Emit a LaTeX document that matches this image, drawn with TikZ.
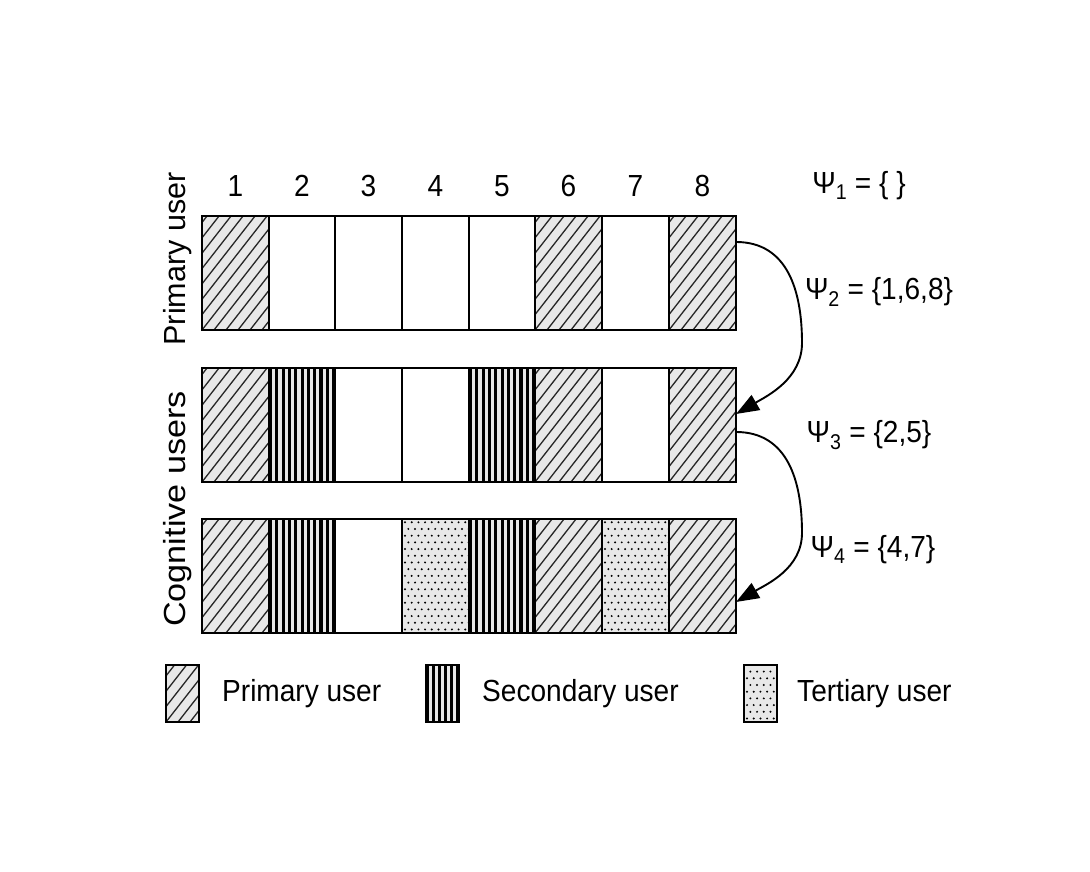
\documentclass[tikz,border=0pt]{standalone}
\usepackage{fontspec}
\setmainfont{Liberation Sans}
\newfontfamily\hfont[FakeStretch=0.92]{Liberation Sans}
\newfontfamily\vfontA{Liberation Sans}
\newfontfamily\vfontB[FakeStretch=1.12]{Liberation Sans}
\usetikzlibrary{arrows.meta,calc}
\definecolor{bgfill}{gray}{0.91}
\tikzset{
  cellbox/.style={fill=white, draw=none, inner sep=0pt, outer sep=0pt, anchor=south west},
  border/.style={line width=1.8pt, draw=black},
  lbl/.style={font=\hfont\fontsize{30.5}{33}\selectfont, inner sep=0pt},
  vlbl/.style={inner sep=0pt, rotate=90},
  flow/.style={line width=1.9pt, -{Triangle[length=23pt,width=17pt]}},
  hatchline/.style={line width=1.3pt, black!85},
}
% #1 name, #2 x, #3 y, #4 w, #5 h
\newcommand\plaincell[5]{%
  \node[cellbox, minimum width=#4pt, minimum height=#5pt] (#1) at (#2,#3) {};
}
\newcommand\hatchcell[5]{%
  \node[cellbox, fill=bgfill, minimum width=#4pt, minimum height=#5pt] (#1) at (#2,#3) {};
  \begin{scope}
    \clip (#1.south west) rectangle (#1.north east);
    \foreach \k in {-12,...,8}
      \draw[hatchline] ($(#1.south west)+(\k*12,0)$) -- ++(52:170);
  \end{scope}
}
\newcommand\stripecell[5]{%
  \node[cellbox, fill=bgfill, minimum width=#4pt, minimum height=#5pt] (#1) at (#2,#3) {};
  \pgfmathtruncatemacro\ngap{round((#4-3)/6.2)}
  \pgfmathsetmacro\sgap{(#4-3)/\ngap}
  \begin{scope}
    \clip (#1.south west) rectangle (#1.north east);
    \foreach \i in {0,...,\ngap}
      \fill[black] ($(#1.south west)+(\i*\sgap,0)$) rectangle ++(3.1,#5);
  \end{scope}
}
\newcommand\dotcell[5]{%
  \node[cellbox, fill=bgfill, minimum width=#4pt, minimum height=#5pt] (#1) at (#2,#3) {};
  \pgfmathtruncatemacro\ncol{floor((#4-4)/6.7)}
  \pgfmathtruncatemacro\nrow{floor((#5-4)/6.7)}
  \begin{scope}
    \clip (#1.south west) rectangle (#1.north east);
    \foreach \j [evaluate=\j as \off using {mod(\j,2)*3.35}] in {0,...,\nrow}
      \foreach \i in {0,...,\ncol}
        \fill[black] ($(#1.south west)+(3+\i*6.7+\off,3.5+\j*6.7)$) circle (1.1);
  \end{scope}
}
\begin{document}
\begin{tikzpicture}[x=1pt,y=1pt]
\useasboundingbox (0,0) rectangle (1090,872);
\fill[white] (0,0) rectangle (1090,872);

% Row 1 (primary user)
\hatchcell{a1}{202}{542}{67}{114}
\plaincell{a2}{269}{542}{66}{114}
\plaincell{a3}{335}{542}{67}{114}
\plaincell{a4}{402}{542}{67}{114}
\plaincell{a5}{469}{542}{66}{114}
\hatchcell{a6}{535}{542}{67}{114}
\plaincell{a7}{602}{542}{67}{114}
\hatchcell{a8}{669}{542}{67}{114}

% Row 2
\hatchcell{b1}{202}{390}{67}{114}
\stripecell{b2}{269}{390}{66}{114}
\plaincell{b3}{335}{390}{67}{114}
\plaincell{b4}{402}{390}{67}{114}
\stripecell{b5}{469}{390}{66}{114}
\hatchcell{b6}{535}{390}{67}{114}
\plaincell{b7}{602}{390}{67}{114}
\hatchcell{b8}{669}{390}{67}{114}

% Row 3
\hatchcell{c1}{202}{239}{67}{114}
\stripecell{c2}{269}{239}{66}{114}
\plaincell{c3}{335}{239}{67}{114}
\dotcell{c4}{402}{239}{67}{114}
\stripecell{c5}{469}{239}{66}{114}
\hatchcell{c6}{535}{239}{67}{114}
\dotcell{c7}{602}{239}{67}{114}
\hatchcell{c8}{669}{239}{67}{114}

% legend boxes
\hatchcell{k1}{166}{150}{33}{57}
\stripecell{k2}{426}{150}{33}{57}
\dotcell{k3}{744}{150}{33}{57}

% borders drawn after all fills
\foreach \c in {a1,a2,a3,a4,a5,a6,a7,a8,b1,b2,b3,b4,b5,b6,b7,b8,c1,c2,c3,c4,c5,c6,c7,c8,k1,k2,k3}
  \draw[border] (\c.south west) rectangle (\c.north east);

% column numbers
\foreach \n/\c in {1/a1,2/a2,3/a3,4/a4,5/a5,6/a6,7/a7,8/a8}
  \node[lbl] (n\n) at ($(\c.north)+(0,30)$) {\n};

% side labels
\node[vlbl, font=\vfontA\fontsize{30.5}{33}\selectfont] (lp) at (178,613) {Primary user};
\node[vlbl, font=\vfontB\fontsize{30.5}{33}\selectfont] (lc) at (178,363) {Cognitive users};

% psi labels
\node[lbl] (p1) at (859,686) {Ψ\textsubscript{1} = \{ \}};
\node[lbl] (p2) at (879,580) {Ψ\textsubscript{2} = \{1,6,8\}};
\node[lbl] (p3) at (869,437) {Ψ\textsubscript{3} = \{2,5\}};
\node[lbl] (p4) at (873,322) {Ψ\textsubscript{4} = \{4,7\}};

% arrows
\coordinate (s1) at ($(a8.north east)+(0,-26)$);
\coordinate (m1) at ($(a8.north east)+(66,-127)$);
\coordinate (e1) at ($(b8.north east)+(0,-46)$);
\coordinate (s2) at ($(b8.north east)+(0,-64)$);
\coordinate (m2) at ($(b8.north east)+(66,-165)$);
\coordinate (e2) at ($(c8.north east)+(0,-83)$);
\draw[flow] (s1) to[out=0,in=90,looseness=1.1] (m1) to[out=-90,in=30,looseness=0.95] (e1);
\draw[flow] (s2) to[out=0,in=90,looseness=1.1] (m2) to[out=-90,in=30,looseness=0.95] (e2);

% legend texts
\node[lbl, anchor=west] (t1) at ($(k1.east)+(23,0)$) {Primary user};
\node[lbl, anchor=west] (t2) at ($(k2.east)+(23,0)$) {Secondary user};
\node[lbl, anchor=west] (t3) at ($(k3.east)+(20,0)$) {Tertiary user};
\end{tikzpicture}
\end{document}
